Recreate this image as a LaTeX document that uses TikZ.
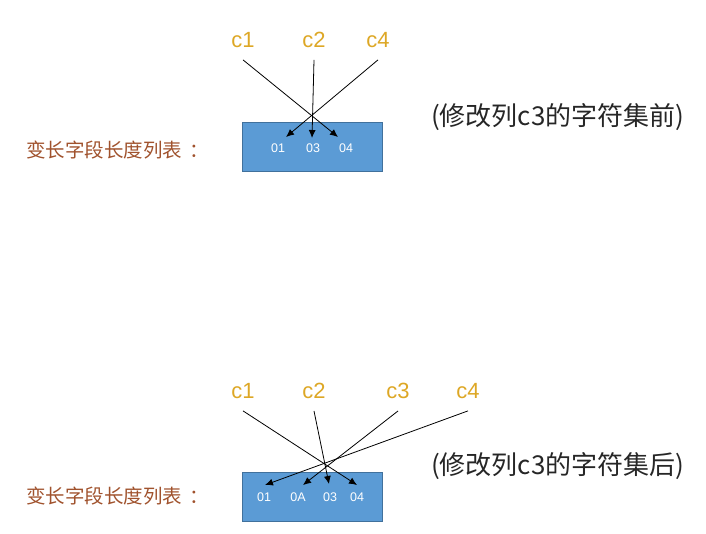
\documentclass[tikz,border=0pt]{standalone}
\usepackage{fontspec}
\setmainfont{Liberation Sans}
\newfontfamily\cjk{Noto Sans CJK SC}
\usetikzlibrary{arrows.meta}
\definecolor{gold}{RGB}{221,167,37}
\definecolor{brownlbl}{RGB}{160,82,45}
\definecolor{boxfill}{RGB}{91,155,213}
\definecolor{boxline}{RGB}{65,113,156}
\begin{document}
\begin{tikzpicture}[x=1pt,y=-1pt,
  collbl/.style={text=gold,font=\fontsize{22}{24}\selectfont,inner xsep=0pt,inner ysep=12pt},
  cellbox/.style={draw=boxline,fill=boxfill,line width=1pt,minimum width=140pt,minimum height=49pt,inner sep=0pt},
  celltxt/.style={text=white,font=\fontsize{12.5}{14}\selectfont,inner sep=0pt},
  leftlbl/.style={text=brownlbl,font=\cjk\fontsize{19.5}{21}\selectfont,anchor=west,inner sep=0pt},
  rightlbl/.style={text=black!85,font=\cjk\fontsize{26}{28}\selectfont,anchor=west,inner sep=0pt},
  arr/.style={-{Latex[length=8pt,width=7pt]},line width=0.8pt}]
\useasboundingbox (0,0) rectangle (706,534);
% ---------- top ----------
\node[cellbox] (box1) at (312,147.5) {};
\node[celltxt] (t1a) at (278,148) {01};
\node[celltxt] (t1b) at (313,148) {03};
\node[celltxt] (t1c) at (346,148) {04};
\node[collbl] (a1) at (243,40) {c1};
\node[collbl] (a2) at (314,40) {c2};
\node[collbl] (a4) at (378,40) {c4};
\node[leftlbl] (l1) at (26,150) {变长字段长度列表\hspace{7pt}：};
\node[rightlbl] (r1) at (431,117) {(修改列c3的字符集前)};
\coordinate (e1c) at (338,137);
\coordinate (e1b) at (312,138);
\coordinate (e1a) at (286,137);
\draw[arr] (a1.south) -- (e1c);
\draw[arr] (a2.south) -- (e1b);
\draw[arr] (a4.south) -- (e1a);
% ---------- bottom ----------
\node[cellbox] (box2) at (312,496.5) {};
\node[celltxt] (t2a) at (264,497) {01};
\node[celltxt] (t2b) at (298,497) {0A};
\node[celltxt] (t2c) at (330,497) {03};
\node[celltxt] (t2d) at (357,497) {04};
\node[collbl] (b1) at (243,391) {c1};
\node[collbl] (b2) at (314,391) {c2};
\node[collbl] (b3) at (398,391) {c3};
\node[collbl] (b4) at (468,391) {c4};
\node[leftlbl] (l2) at (26,496) {变长字段长度列表\hspace{7pt}：};
\node[rightlbl] (r2) at (431,466) {(修改列c3的字符集后)};
\coordinate (e2d) at (357,485);
\coordinate (e2c) at (329,484);
\coordinate (e2b) at (303,485);
\coordinate (e2a) at (265,485);
\draw[arr] (b1.south) -- (e2d);
\draw[arr] (b2.south) -- (e2c);
\draw[arr] (b3.south) -- (e2b);
\draw[arr] (b4.south) -- (e2a);
\end{tikzpicture}
\end{document}
